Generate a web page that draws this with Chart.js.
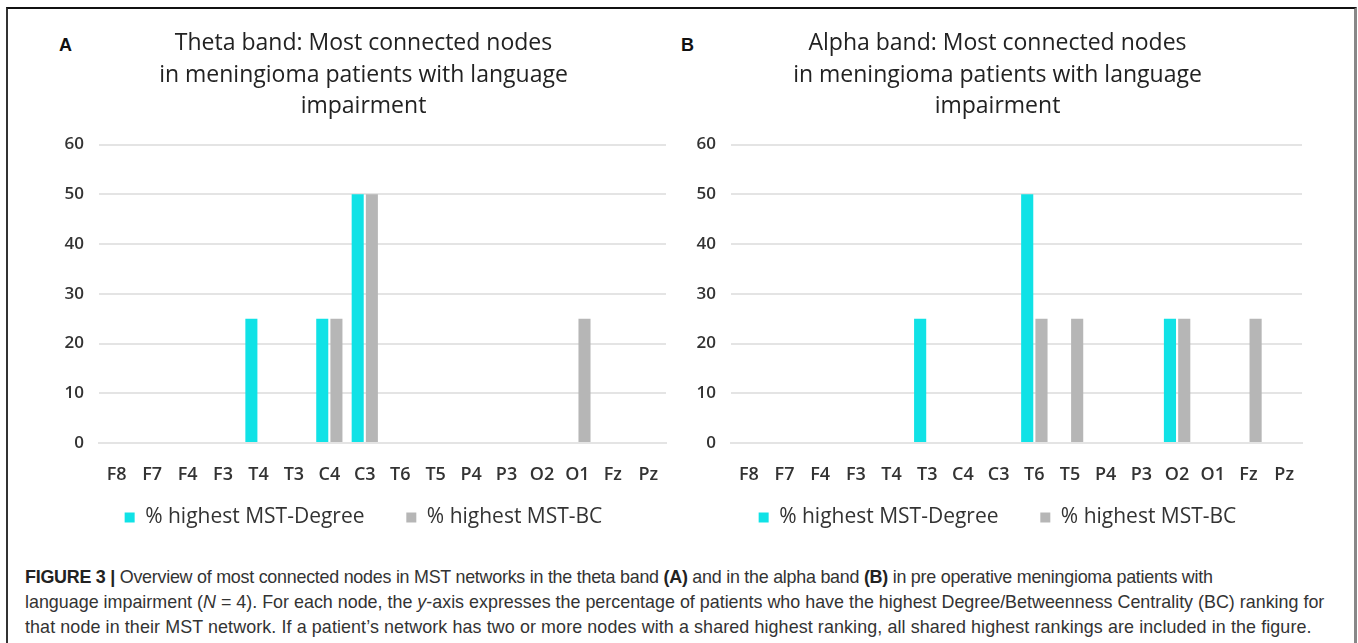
<!DOCTYPE html>
<html>
<head>
<meta charset="utf-8">
<script src="https://cdn.jsdelivr.net/npm/chart.js@4.4.1/dist/chart.umd.min.js"></script>
<style>
  html, body { margin: 0; padding: 0; background: #fff; }
  body { width: 1358px; height: 643px; position: relative; overflow: hidden; font-family: "Liberation Sans", Arial, sans-serif; }
  .frame { position: absolute; left: 6px; top: 7px; width: 1346px; height: 700px;
           border-top: 2px solid #111; border-left: 2px solid #333; border-right: 3px solid #888; }
  .panel { position: absolute; font: bold 18px "Liberation Sans", Arial, sans-serif; color: #111; }
  canvas { position: absolute; }
  .caption { position: absolute; left: 25px; top: 565px; font-size: 17.9px; line-height: 25px;
             color: #333; white-space: nowrap; }
  .caption div { height: 25px; }
  .caption b { color: #222; }
</style>
</head>
<body>
<div class="frame"></div>
<div class="panel" style="left:59px; top:35px;">A</div>
<div class="panel" style="left:681px; top:35px;">B</div>
<canvas id="chartA" width="640" height="522" style="left:50px; top:16px;"></canvas>
<canvas id="chartB" width="630" height="522" style="left:690px; top:16px;"></canvas>
<div class="caption">
<div style="letter-spacing:-0.25px"><b>FIGURE 3 |</b> Overview of most connected nodes in MST networks in the theta band <b>(A)</b> and in the alpha band <b>(B)</b> in pre operative meningioma patients with</div>
<div>language impairment (<i>N</i> = 4). For each node, the <i>y</i>-axis expresses the percentage of patients who have the highest Degree/Betweenness Centrality (BC) ranking for</div>
<div style="letter-spacing:0.1px">that node in their MST network. If a patient’s network has two or more nodes with a shared highest ranking, all shared highest rankings are included in the figure.</div>
</div>
<script>
const nodesTheta = ['F8', 'F7', 'F4', 'F3', 'T4', 'T3', 'C4', 'C3', 'T6', 'T5', 'P4', 'P3', 'O2', 'O1', 'Fz', 'Pz'];
const nodesAlpha = ['F8', 'F7', 'F4', 'F3', 'T4', 'T3', 'C4', 'C3', 'T6', 'T5', 'P4', 'P3', 'O2', 'O1', 'Fz', 'Pz'];

const thetaDegree = [0, 0, 0, 0, 25, 0, 25, 50, 0, 0, 0, 0, 0, 0, 0, 0];
const thetaBC     = [0, 0, 0, 0, 0, 0, 25, 50, 0, 0, 0, 0, 0, 25, 0, 0];
const alphaDegree = [0, 0, 0, 0, 0, 25, 0, 0, 50, 0, 0, 0, 25, 0, 0, 0];
const alphaBC     = [0, 0, 0, 0, 0, 0, 0, 0, 25, 25, 0, 0, 25, 0, 25, 0];

const titleTheta = ['Theta band: Most connected nodes', 'in meningioma patients with language', 'impairment'];
const titleAlpha = ['Alpha band: Most connected nodes', 'in meningioma patients with language', 'impairment'];
const seriesNames = ['% highest MST-Degree', '% highest MST-BC'];
const yMin = 0, yMax = 60, yStep = 10;

const cyan = '#10e2e6';
const grey = '#b6b6b6';
const gridColor = '#e4e4e4';

Chart.defaults.font.family = '"Open Sans", sans-serif';
Chart.defaults.color = '#333';

function makeChart(id, labels, degree, bc, title, padLeft, padRight) {
    const ctx = document.getElementById(id);
    return new Chart(ctx, {
        type: 'bar',
        data: {
            labels: labels,
            datasets: [
                { label: seriesNames[0], data: degree, backgroundColor: cyan,
                  categoryPercentage: 0.8, barPercentage: 0.85 },
                { label: seriesNames[1], data: bc, backgroundColor: grey,
                  categoryPercentage: 0.8, barPercentage: 0.85 }
            ]
        },
        options: {
            responsive: false,
            animation: false,
            layout: { padding: { left: padLeft, right: padRight, top: 0, bottom: 0 } },
            plugins: {
                title: {
                    display: true,
                    text: title,
                    color: '#222',
                    font: { size: 23, weight: 'normal', lineHeight: 1.37 },
                    padding: { top: 12, bottom: 22 }
                },
                legend: {
                    position: 'bottom',
                    labels: {
                        boxWidth: 10,
                        boxHeight: 10,
                        padding: 20,
                        color: '#333',
                        font: { size: 21 },
                        generateLabels: (chart) => {
                            const items = Chart.defaults.plugins.legend.labels.generateLabels(chart);
                            items[0].text = items[0].text + '    ';
                            return items;
                        }
                    }
                },
                tooltip: { enabled: false }
            },
            scales: {
                x: {
                    grid: { display: false, drawTicks: false },
                    border: { display: true, color: gridColor, width: 2 },
                    ticks: { padding: 21, color: '#333', font: { size: 18, weight: '600' } },
                    afterFit: (scale) => { scale.height = 44; }
                },
                y: {
                    min: yMin,
                    max: yMax,
                    grid: { color: gridColor, lineWidth: 2, drawTicks: false },
                    border: { display: false },
                    ticks: { stepSize: yStep, padding: 15, color: '#333', font: { size: 17, weight: '600' } },
                    afterFit: (scale) => { scale.width = 38; }
                }
            }
        }
    });
}

makeChart('chartA', nodesTheta, thetaDegree, thetaBC, titleTheta, 11, 24);
makeChart('chartB', nodesAlpha, alphaDegree, alphaBC, titleAlpha, 3, 18);
</script>
</body>
</html>
